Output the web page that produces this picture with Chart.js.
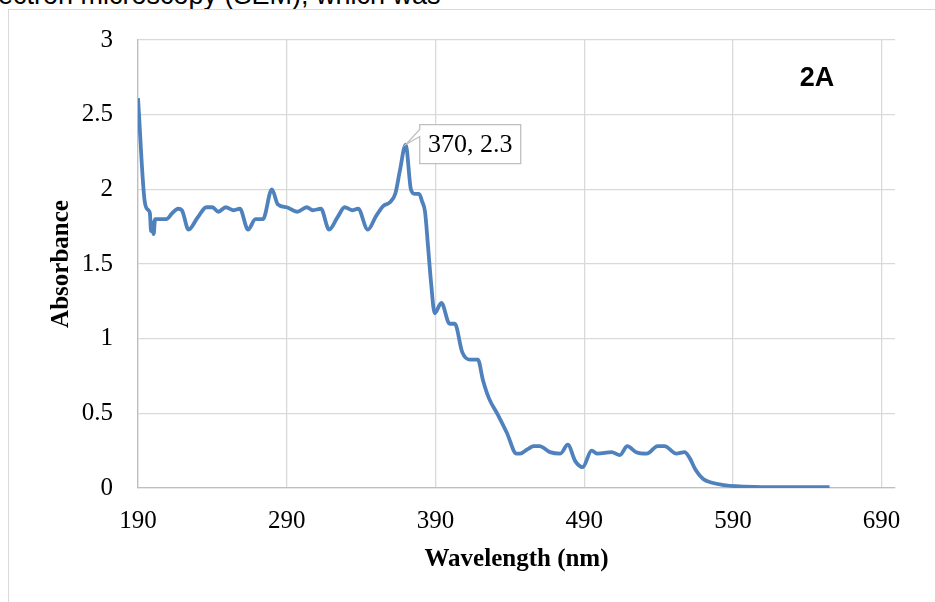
<!DOCTYPE html>
<html>
<head>
<meta charset="utf-8">
<title>Absorbance spectrum 2A</title>
<script src="https://cdn.jsdelivr.net/npm/chart.js@4.4.1/dist/chart.umd.min.js"></script>
<style>
  html, body { margin: 0; padding: 0; background: #fff; overflow: hidden; }
  #wrap { position: relative; width: 935px; height: 602px; overflow: hidden; }
  #frame { position: absolute; left: 8px; top: 9px; width: 1000px; height: 700px;
           border: 1px solid #d9d9d9; box-sizing: border-box; }
  #pagetext { position: absolute; left: -2px; top: -18px; white-space: nowrap; color: #000;
              font: 27px "Liberation Sans", Arial, sans-serif; line-height: 26px; }
  #chart { position: absolute; left: 0; top: 0; }
</style>
</head>
<body>
<div id="wrap">
  <div id="pagetext">ectron microscopy (SEM), which was</div>
  <div id="frame"></div>
  <canvas id="chart" width="935" height="602"></canvas>
</div>
<script>
// UV-Vis absorbance spectrum
const wavelengths = [
  190, 194.5, 197, 198, 198.8, 199.5, 200.5, 201.5, 204, 209, 213, 217, 219.5,
  224, 230, 236, 240, 244, 249, 254, 258.5, 264, 269, 274, 280, 284, 290, 297,
  303.5, 307.5, 313, 318.5, 324, 329, 334, 338, 344.5, 350, 355, 359, 363, 366,
  370, 373.5, 376, 379, 381, 383, 385, 387, 389.5, 394, 399.5, 403, 408, 413,
  418.5, 422, 426, 432, 438, 444.5, 447, 452, 456, 460, 467, 474, 479, 484, 489,
  495, 499, 508.5, 514, 519, 525, 532, 539.5, 544, 552, 557.5, 561, 565, 570,
  576, 584, 592, 605, 625, 655
];
const absorbance = [
  2.61, 1.92, 1.86, 1.84, 1.72, 1.78, 1.70, 1.80, 1.80, 1.80, 1.84, 1.87, 1.86,
  1.73, 1.81, 1.88, 1.88, 1.85, 1.88, 1.86, 1.87, 1.73, 1.80, 1.80, 2.00, 1.90, 1.88, 1.85,
  1.88, 1.86, 1.87, 1.73, 1.81, 1.88, 1.86, 1.87, 1.73, 1.82, 1.89, 1.91, 1.97, 2.12,
  2.30, 2.00, 1.97, 1.97, 1.92, 1.85, 1.62, 1.38, 1.17, 1.24, 1.10, 1.10, 0.91, 0.86,
  0.86, 0.72, 0.60, 0.49, 0.37, 0.23, 0.23, 0.26, 0.28, 0.28, 0.24, 0.23, 0.29, 0.18, 0.14,
  0.25, 0.23, 0.24, 0.22, 0.28, 0.24, 0.23, 0.28, 0.28, 0.23, 0.24, 0.20, 0.12, 0.06,
  0.035, 0.02, 0.012, 0.007, 0.005, 0.005
];
const xTickValues = [190, 290, 390, 490, 590, 690];
const yTickValues = [0, 0.5, 1, 1.5, 2, 2.5, 3];

// Labelled peak
const peakWavelength = 370;
const peakAbsorbance = 2.3;
const peakLabel = peakWavelength + ', ' + peakAbsorbance;
const panelLabel = '2A';

const serif = '"Liberation Serif", "Times New Roman", serif';
const sans = '"Liberation Sans", Arial, sans-serif';

const calloutPlugin = {
  id: 'callout',
  afterDatasetsDraw(chart) {
    const { ctx, scales: { x, y }, chartArea } = chart;
    const px = x.getPixelForValue(peakWavelength);
    const py = y.getPixelForValue(peakAbsorbance);
    const bx = px + 14, by = py - 20, bw = 101, bh = 39;
    ctx.save();
    // callout box with a pointer to the peak
    ctx.beginPath();
    ctx.moveTo(bx, by);
    ctx.lineTo(bx + bw, by);
    ctx.lineTo(bx + bw, by + bh);
    ctx.lineTo(bx, by + bh);
    ctx.lineTo(bx, by + 12);
    ctx.lineTo(px, py);
    ctx.lineTo(bx, by + 5);
    ctx.closePath();
    ctx.fillStyle = '#ffffff';
    ctx.fill();
    ctx.strokeStyle = '#bfbfbf';
    ctx.lineWidth = 1.3;
    ctx.stroke();
    ctx.fillStyle = '#000';
    ctx.font = '26px ' + serif;
    ctx.textAlign = 'center';
    ctx.textBaseline = 'middle';
    ctx.fillText(peakLabel, bx + bw / 2, by + bh / 2 + 1);
    // panel tag
    ctx.font = 'bold 27px ' + sans;
    ctx.fillText(panelLabel, chartArea.right - 78, chartArea.top + 39);
    ctx.restore();
  }
};

new Chart(document.getElementById('chart'), {
  type: 'line',
  data: {
    datasets: [{
      label: 'Absorbance',
      data: wavelengths.map((w, i) => ({ x: w, y: absorbance[i] })),
      borderColor: '#4f81bd',
      borderWidth: 3.8,
      pointRadius: 0,
      fill: false,
      cubicInterpolationMode: 'monotone'
    }]
  },
  options: {
    responsive: false,
    animation: false,
    events: [],
    layout: { padding: { top: 38, right: 40, left: 0, bottom: 0 } },
    plugins: { legend: { display: false }, tooltip: { enabled: false } },
    scales: {
      x: {
        type: 'linear',
        min: 190,
        max: 699,
        afterBuildTicks: s => { s.ticks = xTickValues.map(v => ({ value: v })); },
        afterFit: s => { s.height = 114; },
        grid: { color: '#d9d9d9', lineWidth: 1.3, drawTicks: false },
        border: { color: '#bfbfbf', width: 1.3 },
        ticks: { color: '#000', font: { family: serif, size: 25 }, padding: 18, maxRotation: 0,
                 callback: v => String(v) },
        title: { display: true, text: 'Wavelength (nm)', color: '#000',
                 font: { family: serif, size: 25, weight: 'bold' }, padding: { top: 0, bottom: 27 } }
      },
      y: {
        min: 0,
        max: 3,
        afterBuildTicks: s => { s.ticks = yTickValues.map(v => ({ value: v })); },
        afterFit: s => { s.width = 138; },
        grid: { color: '#d9d9d9', lineWidth: 1.3, drawTicks: false },
        border: { color: '#bfbfbf', width: 1.3 },
        ticks: { color: '#000', font: { family: serif, size: 25 }, padding: 25,
                 callback: v => String(v) },
        title: { display: true, text: 'Absorbance', color: '#000',
                 font: { family: serif, size: 25, weight: 'bold' }, padding: { top: 47, bottom: 0 } }
      }
    }
  },
  plugins: [calloutPlugin]
});
</script>
</body>
</html>
